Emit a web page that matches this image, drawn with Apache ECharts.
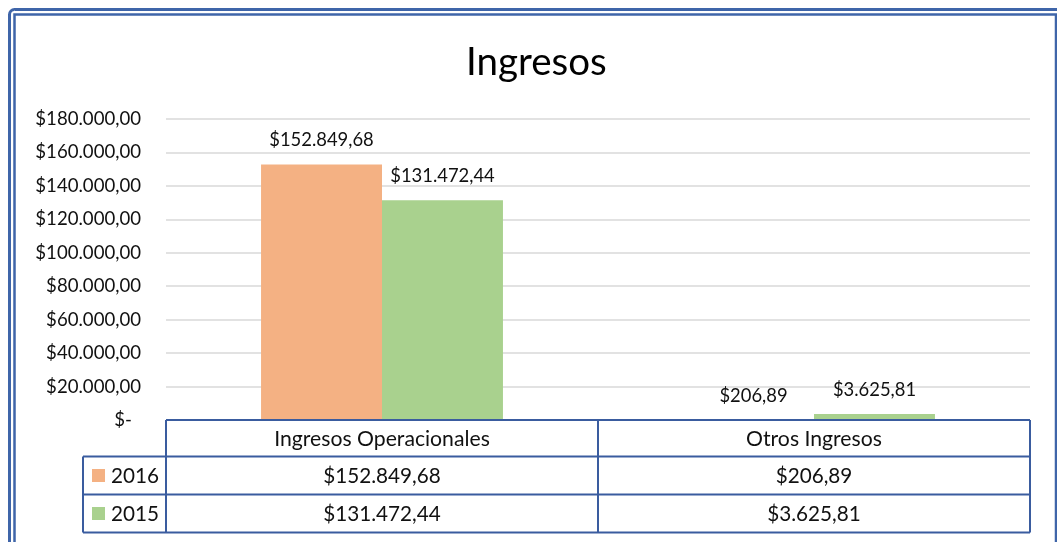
<!DOCTYPE html>
<html>
<head>
<meta charset="utf-8">
<script src="https://cdn.jsdelivr.net/npm/echarts@6/dist/echarts.min.js"></script>
<style>
  html, body { margin: 0; padding: 0; background: #ffffff; }
  #chart { width: 1057px; height: 542px; }
</style>
</head>
<body>
<div id="chart"></div>
<script>
// Income by category, two fiscal years
const categories = ['Ingresos Operacionales', 'Otros Ingresos'];
const seriesNames = ['2016', '2015'];
const values2016 = [152849.68, 206.89];
const values2015 = [131472.44, 3625.81];
const seriesColors = ['#F4B183', '#A9D18E'];
const yMax = 180000;
const yStep = 20000;

const FONT = 'Lato, "Open Sans", sans-serif';
const TEXT = '#111111';
const TABLE_LINE = '#3A5C9F';
const FRAME = '#3F65A9';

// Accounting format: $152.849,68 ; zero shown as $-
function money(v) {
  if (v === 0) return '$-';
  const parts = v.toFixed(2).split('.');
  return '$' + parts[0].replace(/\B(?=(\d{3})+(?!\d))/g, '.') + ',' + parts[1];
}

const chart = echarts.init(document.getElementById('chart'), null, { renderer: 'canvas' });

const seriesValues = [values2016, values2015];

chart.setOption({
  backgroundColor: '#ffffff',
  animation: false,
  title: {
    text: 'Ingresos',
    left: 466,
    top: 43,
    padding: 0,
    textStyle: { fontFamily: FONT, fontSize: 38.5, fontWeight: 'normal', color: '#000000' }
  },
  grid: { left: 166, right: 27, top: 119, height: 301, containLabel: false },
  xAxis: {
    type: 'category',
    data: categories,
    axisLine: { show: false },
    axisTick: { show: false },
    axisLabel: { show: false },
    splitLine: { show: false }
  },
  yAxis: {
    type: 'value',
    min: 0,
    max: yMax,
    interval: yStep,
    axisLine: { show: false },
    axisTick: { show: false },
    splitLine: { lineStyle: { color: '#D9D9D9', width: 1.5 } },
    axisLabel: {
      margin: 25,
      fontFamily: FONT,
      fontSize: 18.6,
      color: TEXT,
      formatter: function (v) { return v === 0 ? '{z|$-}' : money(v); },
      rich: { z: { fontFamily: FONT, fontSize: 18.6, color: TEXT, padding: [0, 9, 0, 0] } }
    }
  },
  series: seriesNames.map(function (name, i) {
    return {
      name: name,
      type: 'bar',
      data: seriesValues[i],
      barGap: '0%',
      barCategoryGap: '44%',
      itemStyle: { color: seriesColors[i] },
      label: {
        show: true,
        position: 'top',
        distance: 15,
        fontFamily: FONT,
        fontSize: 18.4,
        color: TEXT,
        formatter: function (p) { return money(p.value); }
      }
    };
  })
});

// Data table under the plot, plus the double frame around the chart
function buildGraphics() {
  const c0 = chart.convertToPixel({ xAxisIndex: 0 }, 0);
  const c1 = chart.convertToPixel({ xAxisIndex: 0 }, 1);
  const band = c1 - c0;
  const left = c0 - band / 2;
  const right = c0 + band * (categories.length - 0.5);
  const top = chart.convertToPixel({ yAxisIndex: 0 }, 0);
  const headerH = 36.5;
  const rowH = 38;
  const keyLeft = 83;
  const rowsTop = top + headerH;
  const bottom = rowsTop + rowH * seriesNames.length;
  const els = [];
  const line = function (x1, y1, x2, y2) {
    els.push({ type: 'line', z: 10, shape: { x1: x1, y1: y1, x2: x2, y2: y2 },
      style: { stroke: TABLE_LINE, lineWidth: 2 } });
  };
  const text = function (str, x, y, align, size) {
    els.push({ type: 'text', z: 11, x: x, y: y,
      style: { text: str, font: size + 'px ' + FONT, fill: TEXT,
        textAlign: align, textVerticalAlign: 'middle', align: align, verticalAlign: 'middle' } });
  };
  // horizontal rules
  line(left, top, right, top);
  for (let r = 0; r <= seriesNames.length; r++) {
    const y = rowsTop + r * rowH;
    line(keyLeft, y, right, y);
  }
  // vertical rules
  line(keyLeft, rowsTop, keyLeft, bottom);
  for (let k = 0; k <= categories.length; k++) {
    const x = left + k * band;
    line(x, top, x, bottom);
  }
  // category headers
  categories.forEach(function (cat, k) {
    text(cat, left + band * (k + 0.5), top + headerH / 2 + 1, 'center', 21.2);
  });
  // rows: legend key, series name, values
  seriesNames.forEach(function (name, r) {
    const yc = rowsTop + rowH * (r + 0.5);
    els.push({ type: 'rect', z: 11, shape: { x: 92, y: yc - 6.5, width: 13, height: 13 },
      style: { fill: seriesColors[r] } });
    text(name, 111, yc + 1, 'left', 20.7);
    seriesValues[r].forEach(function (v, k) {
      text(money(v), left + band * (k + 0.5), yc + 1, 'center', 20.7);
    });
  });
  // double frame (left and top edges, inner right edge)
  els.push({ type: 'rect', z: 20, shape: { x: 9.5, y: 9.5, width: 1200, height: 700, r: 5 },
    style: { fill: 'none', stroke: FRAME, lineWidth: 3 } });
  els.push({ type: 'rect', z: 20, shape: { x: 14.5, y: 14.5, width: 1041.5, height: 700 },
    style: { fill: 'none', stroke: FRAME, lineWidth: 2.5 } });
  chart.setOption({ graphic: { elements: els } });
}
buildGraphics();
</script>
</body>
</html>
